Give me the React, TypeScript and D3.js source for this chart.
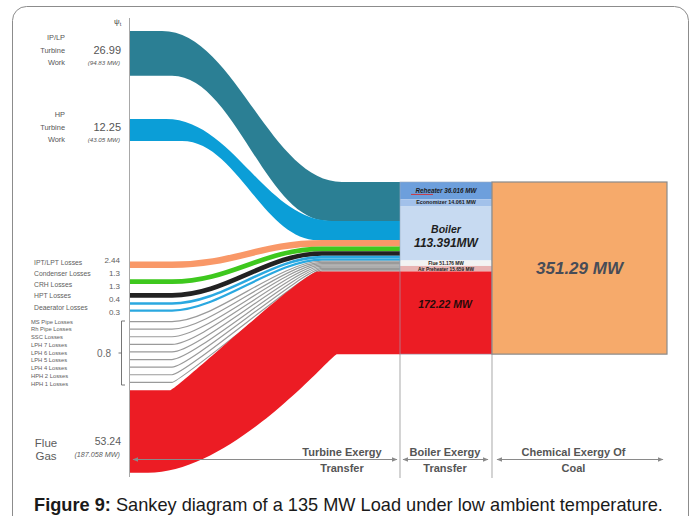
import React from "react";
import * as d3 from "d3";

// ---------------- data ----------------
const bandNames = [["IP/LP", "Turbine", "Work"], ["HP", "Turbine", "Work"], ["Flue", "Gas"]];
const bandPsi = [26.99, 12.25, 53.24];
const bandMW = ["(94.83 MW)", "(43.05 MW)", "(187.058 MW)"];
const lossNames = ["IPT/LPT Losses", "Condenser Losses", "CRH Losses", "HPT Losses", "Deaerator Losses"];
const lossValues = [2.44, 1.3, 1.3, 0.4, 0.3];
const minorLossNames = [
  "MS Pipe Losses", "Rh Pipe Losses", "SSC Losses", "LPH 7 Losses", "LPH 6 Losses",
  "LPH 5 Losses", "LPH 4 Losses", "HPH 2 Losses", "HPH 1 Losses",
];
const minorLossTotal = 0.8;
const boilerParts = ["Reheater", "Economizer", "Boiler", "Flue", "Air Preheater", "Destruction"];
const boilerMW = [36.016, 14.061, 113.391, 51.176, 15.659, 172.22];
const coalMW = 351.29;
const stageNames = [["Turbine Exergy", "Transfer"], ["Boiler Exergy", "Transfer"], ["Chemical Exergy Of", "Coal"]];

// ---------------- styles ----------------
const FONT = "Arial, 'Liberation Sans', Helvetica, sans-serif";
const bandColors = ["#2b7f94", "#0b9ed7", "#ec1c24"];
const lossColors = ["#f99868", "#3ec81e", "#222222", "#2aa8e0", "#2aa8e0"];
const minorColor = "#9a9a9a";
const partColors = ["#6d9fdc", "#a2c1ea", "#c7daf1", "#f3f3f3", "#e8b3b3", "#ec1c24"];
const coalColor = "#f6aa6b";

type Edge = { y0: number; y1: number; xa: number; xb: number; r1: number; r2: number };

function edgeForward(e: Edge) {
  const dx = e.xb - e.xa;
  return `L${e.xa},${e.y0} C${e.xa + e.r1 * dx},${e.y0} ${e.xb - e.r2 * dx},${e.y1} ${e.xb},${e.y1}`;
}
function edgeBackward(e: Edge) {
  const dx = e.xb - e.xa;
  return `L${e.xb},${e.y1} C${e.xb - e.r2 * dx},${e.y1} ${e.xa + e.r1 * dx},${e.y0} ${e.xa},${e.y0}`;
}

export default function App() {
  const W = 697, H = 516;
  const xL = 130, xCol = 400, xCoal = 492, xEnd = 667;
  const colTop = 182;

  // scales
  const bandW = d3.scalePow().exponent(0.9).domain([0, d3.max(bandPsi)!]).range([0, 82.5]);
  const lineW = d3.scaleSqrt().domain([0, d3.max(lossValues)!]).range([0, 6.4]);
  const minorW = 1.2;
  const mwPx = d3.scaleLinear().domain([0, coalMW]).range([0, coalMW * 0.48]);

  // boiler column segments
  const segH = boilerParts.map((p, i) => (p === "Flue" || p === "Air Preheater" ? 5.5 : mwPx(boilerMW[i])));
  const segY: number[] = [];
  let acc = colTop;
  segH.forEach((h) => { segY.push(acc); acc += h; });
  const colH = acc - colTop;

  // left stacking (layout gaps)
  const thickL = bandPsi.map((v) => bandW(v));
  const lineWidths = [...lossValues.map((v) => lineW(v)), ...minorLossNames.map(() => minorW)];
  const lineColors = [...lossColors, ...minorLossNames.map(() => minorColor)];
  const lineGaps = [11.4, 9, 4.5, 4.6, 9.3, 6.4, 6.4, 6.4, 6.4, 6.4, 6.4, 6.4, 6.4];
  const tealTop = 31;
  const blueTop = tealTop + thickL[0] + 43.3;
  const lineLeftC: number[] = [];
  let y = blueTop + thickL[1] + 120.5;
  lineWidths.forEach((w, i) => {
    if (i > 0) y += lineGaps[i - 1] + lineWidths[i - 1] / 2;
    y += w / 2;
    lineLeftC.push(y);
  });
  const redTop = lineLeftC[lineLeftC.length - 1] + minorW / 2 + 7.4;
  const leftTops = [tealTop, blueTop, redTop];

  // right stacking
  const redR = segH[segH.length - 1];
  const linesTotal = d3.sum(lineWidths);
  const s = (colH - redR - linesTotal) / (thickL[0] + thickL[1]);
  const thickR = [thickL[0] * s, thickL[1] * s, redR];
  const rTeal = colTop, rBlue = colTop + thickR[0];
  const lineRightC: number[] = [];
  let yr = rBlue + thickR[1];
  lineWidths.forEach((w) => { lineRightC.push(yr + w / 2); yr += w; });
  const rightTops = [rTeal, rBlue, colTop + colH - redR];

  // curve layout per band
  const curves = [
    { top: { xa: 162, xb: 342, r1: 0.4, r2: 0.4 }, bot: { xa: 172, xb: 328, r1: 0.4, r2: 0.4 } },
    { top: { xa: 166, xb: 332, r1: 0.4, r2: 0.4 }, bot: { xa: 182, xb: 318, r1: 0.4, r2: 0.4 } },
    { top: { xa: 170, xb: 318, r1: 0.04, r2: 0.1 }, bot: { xa: 148, xb: 337, r1: 0.45, r2: 0.03 } },
  ];

  const bandPath = (i: number) => {
    const c = curves[i];
    const top: Edge = { y0: leftTops[i], y1: rightTops[i], ...c.top };
    const bot: Edge = { y0: leftTops[i] + thickL[i], y1: rightTops[i] + thickR[i], ...c.bot };
    return `M${xL},${top.y0} ${edgeForward(top)} L${xCol},${top.y1} L${xCol},${bot.y1} ${edgeBackward(bot)} L${xL},${bot.y0} Z`;
  };

  const lineR = d3.scaleLinear().domain([0, lineWidths.length - 1]).range([0.42, 0.06]);
  const linePath = (i: number) => {
    const e: Edge = { y0: lineLeftC[i], y1: lineRightC[i], xa: 172, xb: 322, r1: lineR(i), r2: lineR(i) };
    return `M${xL},${e.y0} ${edgeForward(e)} L${xCol},${e.y1}`;
  };

  // label positions
  const lossLabelY = d3.scalePoint<string>().domain(lossNames).range([264.5, 309.5]);
  const lossValueY = d3.scalePoint<string>().domain(lossNames).range([263, 315]);
  const minorY = d3.scalePoint<string>().domain(minorLossNames).range([322, 384]);
  const bandLabelOffset = [-3, -3, 10.5];

  const segLabel = (i: number) => {
    const name = boilerParts[i];
    const mw = boilerMW[i];
    if (name === "Destruction") return `${mw.toFixed(2)} MW`;
    return `${name} ${mw.toFixed(3)} MW`;
  };

  const stageRanges: [number, number][] = [[133, 397], [403, 488], [497, 663]];
  const stageCenters = [xCol - 58, (xCol + xCoal) / 2 - 1, (xCoal + xEnd) / 2 - 6];

  return (
    <svg width={W} height={H} viewBox={`0 0 ${W} ${H}`} style={{ position: "absolute", left: 0, top: 0, background: "#fff" }} fontFamily={FONT}>
      <defs>
        <marker id="arrR" viewBox="0 0 6 6" refX="5" refY="3" markerWidth="6" markerHeight="6" orient="auto">
          <path d="M0,0.8 L5.5,3 L0,5.2 Z" fill="#8a8a8a" />
        </marker>
        <marker id="arrL" viewBox="0 0 6 6" refX="1" refY="3" markerWidth="6" markerHeight="6" orient="auto">
          <path d="M6,0.8 L0.5,3 L6,5.2 Z" fill="#8a8a8a" />
        </marker>
      </defs>
      <rect x={0} y={0} width={W} height={H} fill="#fff" />
      <rect x={12.5} y={6.5} width={676} height={580} rx={14} fill="none" stroke="#8c8c8c" strokeWidth={1} />

      {/* separators */}
      {[xCol, xCoal].map((x) => (
        <line key={x} x1={x} x2={x} y1={colTop} y2={478} stroke="#c9c9c9" strokeWidth={1.6} />
      ))}

      {/* flows */}
      <path d={bandPath(0)} fill={bandColors[0]} />
      <path d={bandPath(1)} fill={bandColors[1]} />
      {lineWidths.map((w, i) => (
        <path key={i} d={linePath(i)} fill="none" stroke={lineColors[i]} strokeWidth={w} />
      ))}
      <path d={bandPath(2)} fill={bandColors[2]} />

      {/* boiler column */}
      {boilerParts.map((p, i) => (
        <rect key={p} x={xCol} y={segY[i]} width={xCoal - xCol} height={segH[i]} fill={partColors[i]} />
      ))}
      <rect x={xCol} y={colTop} width={xCoal - xCol} height={colH} fill="none" stroke="#9aaac0" strokeWidth={0.6} />
      {/* coal box */}
      <rect x={xCoal} y={colTop} width={xEnd - xCoal} height={colH} fill={coalColor} stroke="#8a8a8a" strokeWidth={1.2} />
      <text x={(xCoal + xEnd) / 2} y={colTop + colH / 2 + 6} textAnchor="middle" fontSize={17} fontWeight="bold" fontStyle="italic" fill="#474c57">
        {`${coalMW.toFixed(2)} MW`}
      </text>

      {/* boiler column labels */}
      {[0, 1, 3, 4].map((i) => (
        <text key={i} x={(xCol + xCoal) / 2} y={segY[i] + segH[i] / 2 + (i === 0 ? 2.2 : 1.8)} textAnchor="middle"
          fontSize={i === 0 ? 6.3 : i === 1 ? 5.4 : 4.8} fontWeight="bold" fontStyle={i === 0 ? "italic" : "normal"} fill="#1a1a1a">
          {segLabel(i)}
        </text>
      ))}
      <line x1={411} x2={433} y1={segY[0] + segH[0] / 2 + 3.8} y2={segY[0] + segH[0] / 2 + 3.8} stroke="#e02020" strokeWidth={0.8} />
      <text x={(xCol + xCoal) / 2} y={segY[2] + segH[2] / 2 - 0.5} textAnchor="middle" fontSize={10.5} fontWeight="bold" fontStyle="italic" fill="#1e1e1e">
        {boilerParts[2]}
      </text>
      <text x={(xCol + xCoal) / 2} y={segY[2] + segH[2] / 2 + 13.5} textAnchor="middle" fontSize={12} fontWeight="bold" fontStyle="italic" fill="#1e1e1e">
        {`${boilerMW[2]}MW`}
      </text>
      <text x={(xCol + xCoal) / 2 - 1} y={segY[5] + 37} textAnchor="middle" fontSize={10.5} fontWeight="bold" fontStyle="italic" fill="#2a0a0a">
        {segLabel(5)}
      </text>

      {/* left axis */}
      <line x1={129.5} x2={129.5} y1={18} y2={477} stroke="#a8a8a8" strokeWidth={1} />
      <text x={114} y={24} fontSize={8} fill="#444">ψ<tspan fontSize={5.5} dy={1.5}>t</tspan></text>

      {/* band labels */}
      {[0, 1].map((i) => {
        const c = leftTops[i] + thickL[i] / 2 + bandLabelOffset[i];
        return (
          <g key={i} fill="#555555">
            {bandNames[i].map((t, k) => (
              <text key={t} x={65} y={c + (k - 1) * 12.5 + 2.6} textAnchor="end" fontSize={7.4}>{t}</text>
            ))}
            <text x={121} y={c + 3.8} textAnchor="end" fontSize={11} fill="#555">{bandPsi[i].toFixed(2)}</text>
            <text x={120} y={c + 14.5} textAnchor="end" fontSize={6.2} fontStyle="italic">{bandMW[i]}</text>
          </g>
        );
      })}
      {(() => {
        const c = leftTops[2] + thickL[2] / 2 + bandLabelOffset[2];
        return (
          <g fill="#5c5c5c">
            <text x={46} y={c + 4.5} textAnchor="middle" fontSize={11.5}>{bandNames[2][0]}</text>
            <text x={46} y={c + 17.5} textAnchor="middle" fontSize={11.5}>{bandNames[2][1]}</text>
            <text x={121} y={c + 2.5} textAnchor="end" fontSize={10.5}>{bandPsi[2].toFixed(2)}</text>
            <text x={120} y={c + 14.5} textAnchor="end" fontSize={7.2} fontStyle="italic">{bandMW[2]}</text>
          </g>
        );
      })()}

      {/* loss labels */}
      {lossNames.map((n, i) => (
        <g key={n} fill="#606060">
          <text x={34} y={lossLabelY(n)!} fontSize={6.8}>{n}</text>
          <text x={120} y={lossValueY(n)!} textAnchor="end" fontSize={8}>{String(lossValues[i])}</text>
        </g>
      ))}
      {minorLossNames.map((n) => (
        <text key={n} x={31} y={minorY(n)! + 1.5} fontSize={5.8} fill="#606060">{n}</text>
      ))}
      <path d="M125,321 H121.5 V385 H125 M121.5,353 H118.5" fill="none" stroke="#666" strokeWidth={0.9} />
      <text x={111} y={357} textAnchor="end" fontSize={10} fill="#6a6a6a">{String(minorLossTotal)}</text>

      {/* bottom stage axis */}
      {stageRanges.map(([a, b], i) => (
        <line key={i} x1={a} x2={b} y1={459.5} y2={459.5} stroke="#8a8a8a" strokeWidth={1}
          markerStart="url(#arrL)" markerEnd="url(#arrR)" />
      ))}
      {stageNames.map((lines, i) => (
        <g key={i} fontWeight="bold" fontSize={11} fill="#555" textAnchor="middle">
          <text x={stageCenters[i]} y={456}>{lines[0]}</text>
          <text x={stageCenters[i]} y={471.5}>{lines[1]}</text>
        </g>
      ))}

      {/* caption */}
      <text x={348.5} y={510.5} textAnchor="middle" fontSize={18.2} fill="#1a1a1a">
        <tspan fontWeight="bold">Figure 9:</tspan> Sankey diagram of a 135 MW Load under low ambient temperature.
      </text>
    </svg>
  );
}
